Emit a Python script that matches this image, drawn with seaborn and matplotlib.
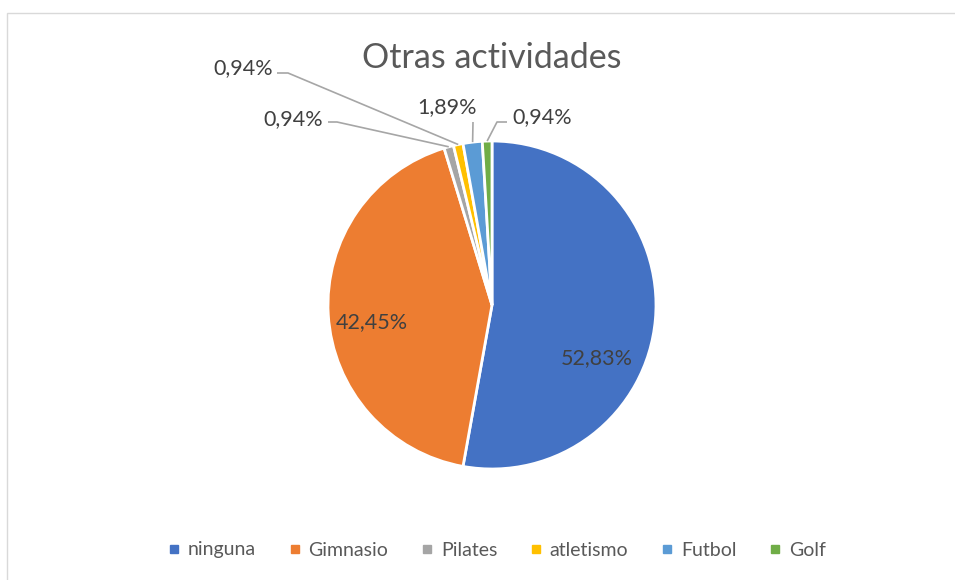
# Import the relevant packages
import numpy as np
import seaborn as sns
import matplotlib.pyplot as plt
from matplotlib.patches import Rectangle
from matplotlib.lines import Line2D

# Data (counts of people, 106 in total)
categories = ["ninguna", "Gimnasio", "Pilates", "atletismo", "Futbol", "Golf"]
counts = [56, 45, 1, 1, 2, 1]
colors = ["#4472C4", "#ED7D31", "#A5A5A5", "#FFC000", "#5B9BD5", "#70AD47"]
title = "Otras actividades"

sns.set_theme(style = "white")
plt.rcParams["font.family"] = ["Lato", "DejaVu Sans"]

W, H = 955, 580
CX, CY, R = 492, 305, 164  # pie centre and radius in pixels

fig = plt.figure(figsize = (W / 100, H / 100), dpi = 100)
ax = fig.add_axes([0, 0, 1, 1])

palette = sns.color_palette(colors)
wedges, _ = ax.pie(
    counts,
    colors = palette,
    startangle = 90,
    counterclock = False,
    radius = 1,
    wedgeprops = dict(edgecolor = "white", linewidth = 2)
)

# Map the axes so that 1 data unit = R pixels, centred at (CX, CY)
ax.set_xlim(-CX / R, (W - CX) / R)
ax.set_ylim((CY - H) / R, CY / R)
ax.set_aspect("auto")
ax.axis("off")


def px(x, y):
    # Pixel position (from top-left) to data coordinates
    return (x - CX) / R, (CY - y) / R


def fmt(c):
    return f"{100 * c / sum(counts):.2f}%".replace(".", ",")


def wedge_edge(w, r = 1.0):
    ang = np.deg2rad((w.theta1 + w.theta2) / 2)
    return r * np.cos(ang), r * np.sin(ang)


label_color = "#404040"
fs = 15.5

# Labels inside the two big slices
for i, pos in [(0, (597, 358)), (1, (372, 322))]:
    ax.text(*px(*pos), fmt(counts[i]), ha = "center", va = "center",
            fontsize = fs, color = label_color)

# Small slices: text position, line start and elbow in pixels
small = {
    2: dict(text = (293, 119), start = (328, 122), elbow = (337, 122)),
    3: dict(text = (243, 68), start = (277, 73), elbow = (288, 73)),
    4: dict(text = (447, 107), start = (473, 122), elbow = (473, 122)),
    5: dict(text = (542, 117), start = (507, 122), elbow = (497, 122)),
}
for i, s in small.items():
    ax.text(*px(*s["text"]), fmt(counts[i]), ha = "center", va = "center",
            fontsize = fs, color = label_color)
    end = wedge_edge(wedges[i], 1.0)
    p0 = px(*s["start"])
    p1 = px(*s["elbow"])
    ax.plot([p0[0], p1[0], end[0]], [p0[1], p1[1], end[1]],
            color = "#A6A6A6", linewidth = 1.2, solid_capstyle = "butt")

# Title
ax.text(*px(492, 58), title, ha = "center", va = "center",
        fontsize = 24.5, color = "#595959")

# Legend
handles = [
    Line2D([], [], marker = "s", linestyle = "", markersize = 6,
           markerfacecolor = c, markeredgecolor = c)
    for c in palette
]
fig.legend(
    handles, categories,
    loc = "center",
    bbox_to_anchor = (497 / W, 1 - 550 / H),
    ncol = len(categories),
    frameon = False,
    fontsize = 14,
    handlelength = 0.6,
    handletextpad = 0.4,
    columnspacing = 1.7,
    labelcolor = "#595959"
)

# Chart area border, like the spreadsheet frame
fig.patches.append(Rectangle(
    (6.5 / W, -0.1), 1.2, 1 - 13.5 / H + 0.1,
    transform = fig.transFigure, fill = False,
    edgecolor = "#D9D9D9", linewidth = 1
))

fig.savefig("out.png", dpi = 100)
